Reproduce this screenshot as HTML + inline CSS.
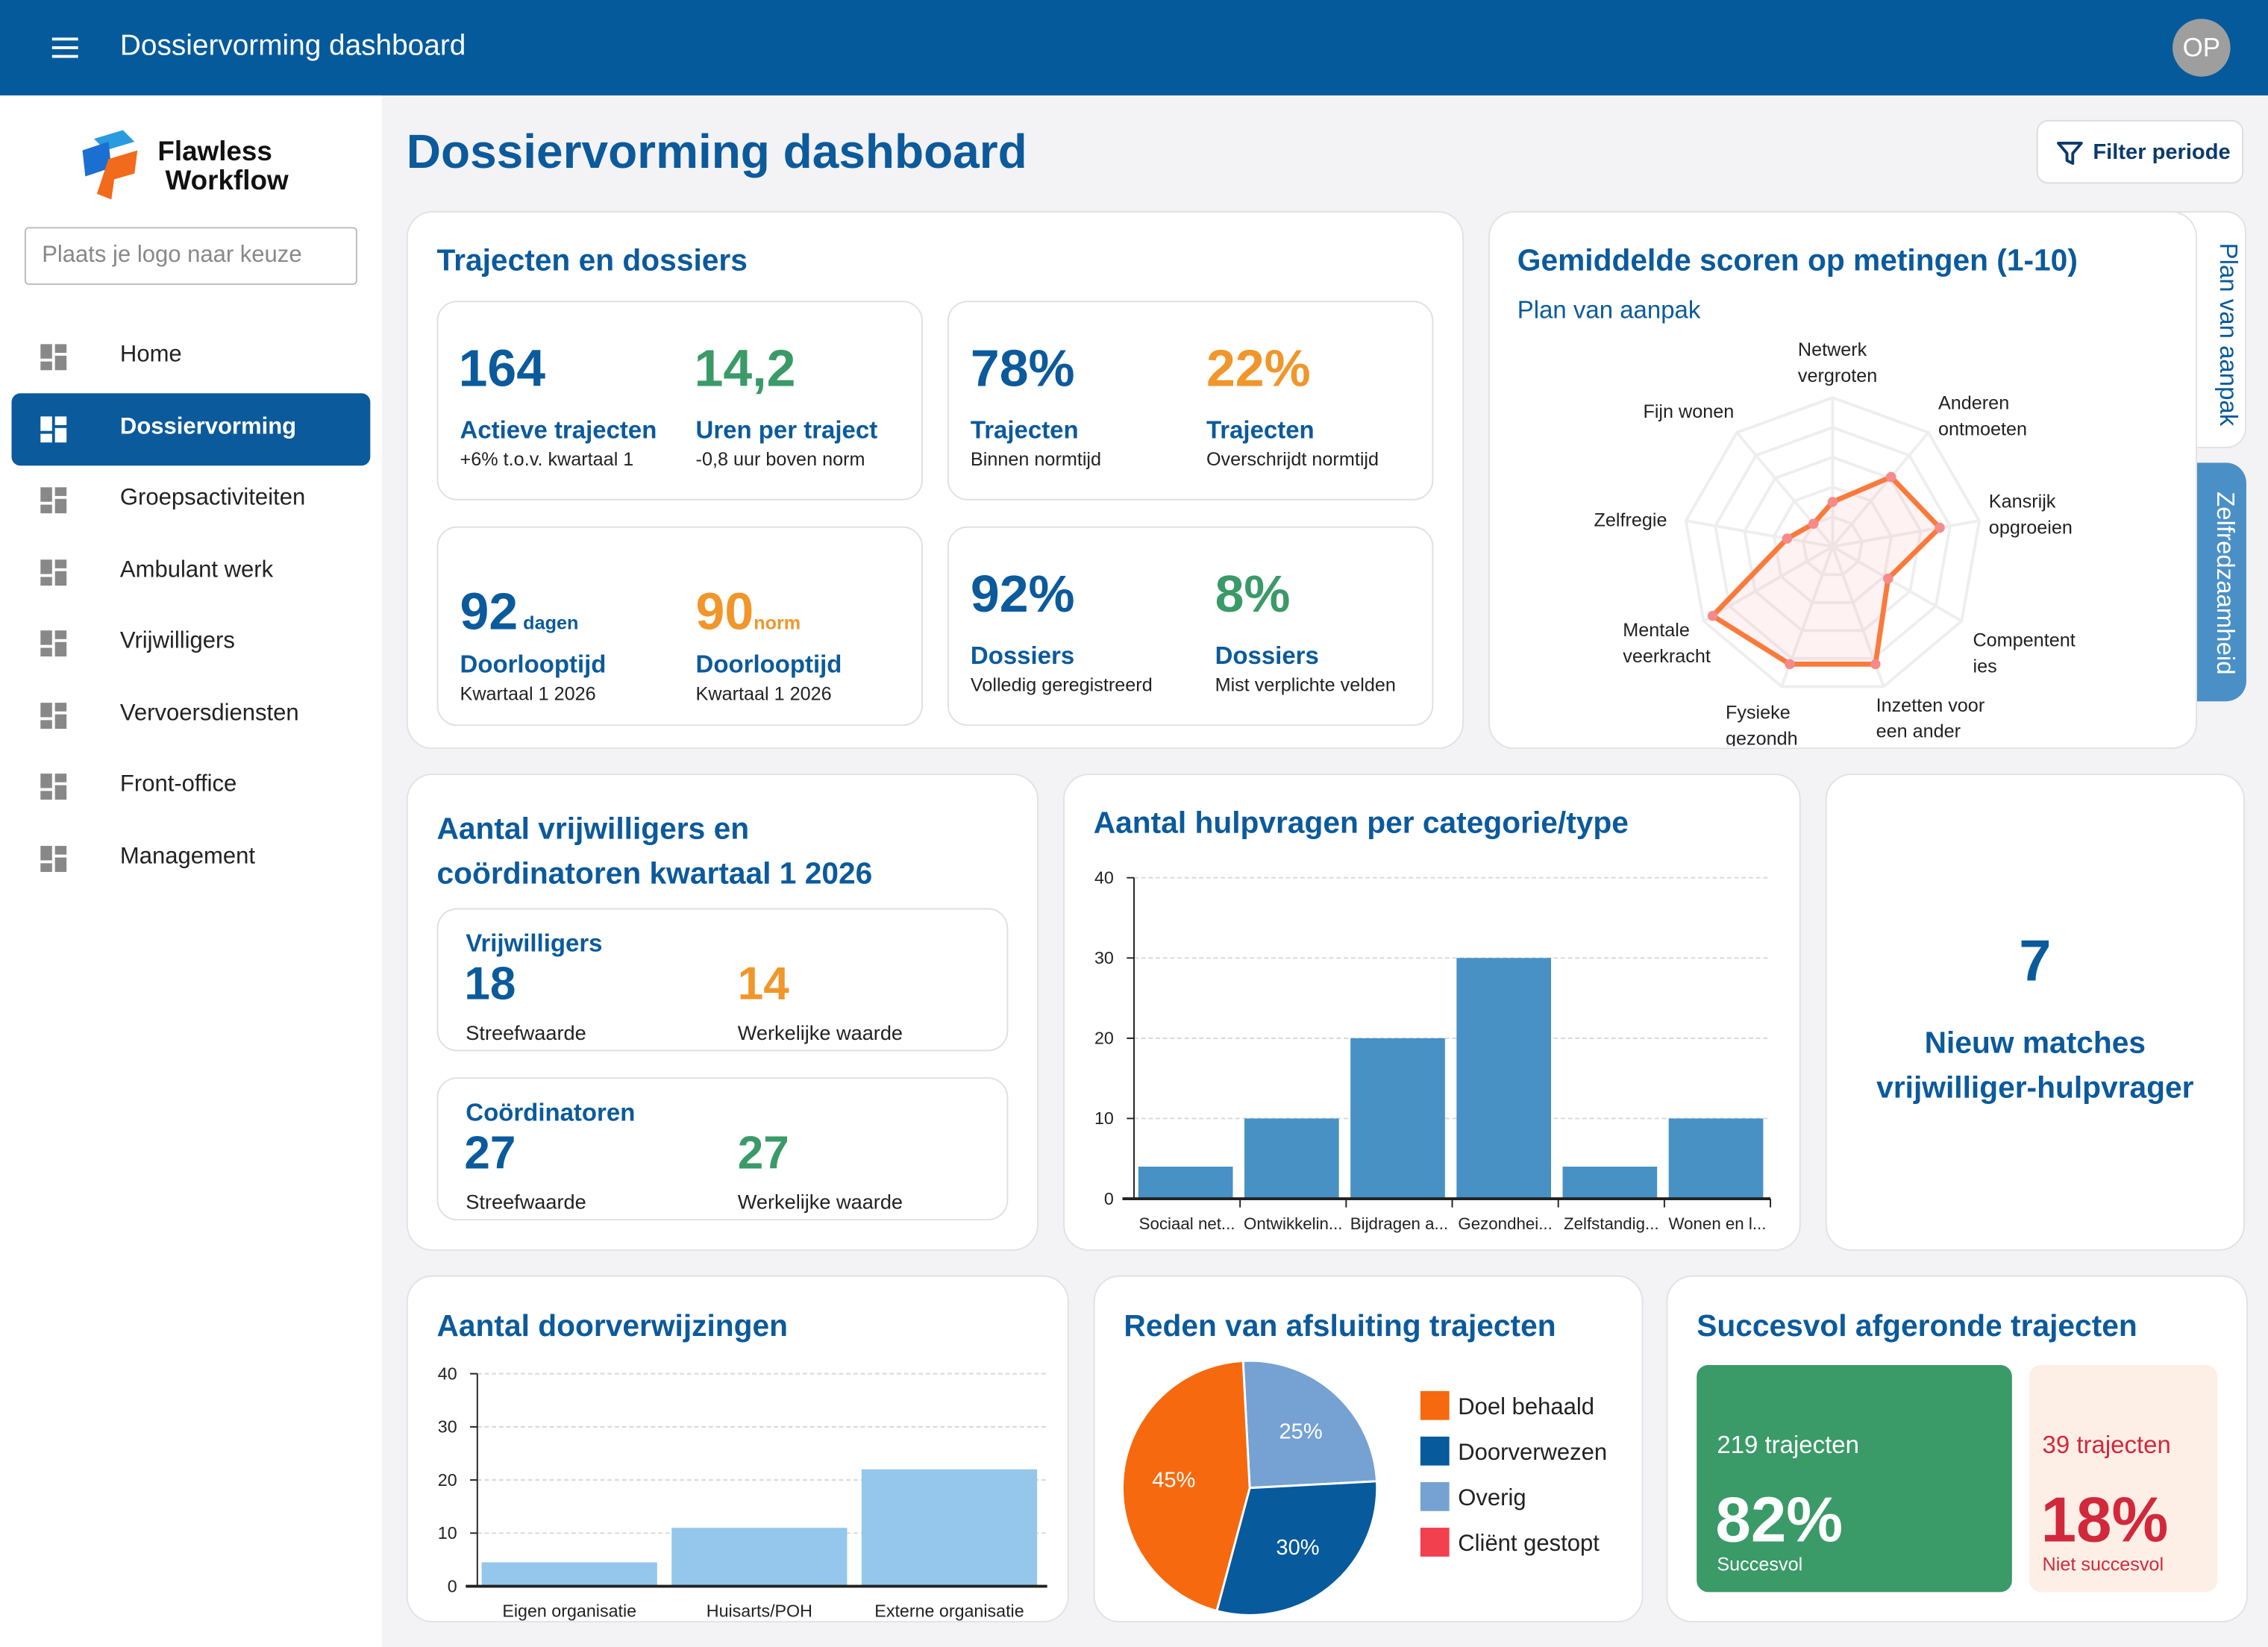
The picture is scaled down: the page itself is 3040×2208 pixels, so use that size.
<!DOCTYPE html>
<html><head><meta charset="utf-8">
<style>
html,body{margin:0;padding:0;width:3040px;height:2208px;overflow:hidden;background:#f3f2f5;font-family:"Liberation Sans",sans-serif;}
#s{position:absolute;left:0;top:0;width:1568px;height:1139px;transform:scale(1.93878,1.93854);transform-origin:0 0;}
.a{position:absolute;}
.card{position:absolute;background:#fff;border:1px solid #e2e2e6;border-radius:18px;box-sizing:border-box;}
.box{position:absolute;background:#fff;border:1px solid #e0e0e4;border-radius:14px;box-sizing:border-box;}
.t{position:absolute;color:#0b5a9c;font-weight:bold;font-size:21px;white-space:nowrap;}
.big{position:absolute;font-weight:bold;font-size:36px;white-space:nowrap;}
.lb{position:absolute;font-weight:bold;font-size:17px;color:#0b5a9c;white-space:nowrap;}
.sm{position:absolute;font-size:13px;color:#222;white-space:nowrap;}
.nav{position:absolute;left:8px;width:248px;height:50px;border-radius:6px;}
.nav span{position:absolute;left:75px;top:15px;font-size:16px;color:#222;}
.ic{position:absolute;left:20px;top:16px;width:18px;height:18px;}
.ic i{position:absolute;background:#888;}
.blue{color:#0b5a9c}.green{color:#3a9a68}.orange{color:#f0962a}
</style></head><body>
<div id="s">
<!-- header -->
<div class="a" style="left:0;top:0;width:1568px;height:66px;background:#045a9b;"></div>
<div class="a" style="left:36px;top:26px;width:18px;height:14px;">
<div class="a" style="left:0;top:0;width:18px;height:2px;background:#fff"></div><div class="a" style="left:0;top:6px;width:18px;height:2px;background:#fff"></div><div class="a" style="left:0;top:12px;width:18px;height:2px;background:#fff"></div></div>
<div class="a" style="left:83px;top:21px;color:#fff;font-size:20px;">Dossiervorming dashboard</div>
<div class="a" style="left:1502px;top:13px;width:40px;height:40px;border-radius:20px;background:#9e9e9e;color:#fff;font-size:18px;text-align:center;line-height:40px;">OP</div>
<!-- sidebar -->
<div class="a" style="left:0;top:66px;width:264px;height:1073px;background:#fff;"></div>
<svg class="a" style="left:55px;top:90px" width="42" height="50" viewBox="0 0 42 50"><path d="M10 6 L30 0 L38 8 L18 14 Z" fill="#2a9be0"/><path d="M2 14 L20 8 L22 26 L4 32 Z" fill="#1b6fd1"/><path d="M20 20 L40 14 L38 30 L24 34 L22 48 L12 44 Z" fill="#f26a1b"/></svg>
<div class="a" style="left:109px;top:96px;font-weight:bold;font-size:19px;line-height:20px;color:#111;">Flawless<br>&nbsp;Workflow</div>
<div class="a" style="left:17px;top:157px;width:230px;height:40px;border:1px solid #bbb;border-radius:3px;box-sizing:border-box;color:#888;font-size:16px;line-height:38px;padding-left:11px;">Plaats je logo naar keuze</div>
<div id="nav"></div>
<!-- title -->
<div class="a" style="left:281px;top:86px;color:#0b5a9c;font-weight:bold;font-size:33px;">Dossiervorming dashboard</div>
<div class="a" style="left:1408px;top:83px;width:143px;height:44px;background:#fff;border:1px solid #ddd;border-radius:8px;box-sizing:border-box;">
<svg class="a" style="left:13px;top:13px" width="18" height="18" viewBox="0 0 18 18"><path d="M1 2 H17 L11 9 V16 L7 14 V9 Z" fill="none" stroke="#0b3a6c" stroke-width="2" stroke-linejoin="round"/></svg>
<span class="a" style="left:38px;top:13px;font-size:15px;color:#0b3a6c;font-weight:bold;">Filter periode</span></div>

<!-- card trajecten -->
<div class="card" style="left:281px;top:146px;width:731px;height:372px;"></div>
<div class="t" style="left:302px;top:169px;">Trajecten en dossiers</div>
<div class="box" style="left:302px;top:208px;width:336px;height:138px;"></div>
<div class="box" style="left:655px;top:208px;width:336px;height:138px;"></div>
<div class="box" style="left:302px;top:364px;width:336px;height:138px;"></div>
<div class="box" style="left:655px;top:364px;width:336px;height:138px;"></div>
<div class="big blue" style="left:317px;top:234px;">164</div>
<div class="lb" style="left:318px;top:288px;">Actieve trajecten</div>
<div class="sm" style="left:318px;top:310px;">+6% t.o.v. kwartaal 1</div>
<div class="big green" style="left:480px;top:234px;">14,2</div>
<div class="lb" style="left:481px;top:288px;">Uren per traject</div>
<div class="sm" style="left:481px;top:310px;">-0,8 uur boven norm</div>
<div class="big blue" style="left:671px;top:234px;">78%</div>
<div class="lb" style="left:671px;top:288px;">Trajecten</div>
<div class="sm" style="left:671px;top:310px;">Binnen normtijd</div>
<div class="big orange" style="left:834px;top:234px;">22%</div>
<div class="lb" style="left:834px;top:288px;">Trajecten</div>
<div class="sm" style="left:834px;top:310px;">Overschrijdt normtijd</div>
<div class="big blue" style="left:318px;top:402px;">92<span style="font-size:13px;"> dagen</span></div>
<div class="lb" style="left:318px;top:450px;">Doorlooptijd</div>
<div class="sm" style="left:318px;top:472px;">Kwartaal 1 2026</div>
<div class="big orange" style="left:481px;top:402px;">90<span style="font-size:13px;">norm</span></div>
<div class="lb" style="left:481px;top:450px;">Doorlooptijd</div>
<div class="sm" style="left:481px;top:472px;">Kwartaal 1 2026</div>
<div class="big blue" style="left:671px;top:390px;">92%</div>
<div class="lb" style="left:671px;top:444px;">Dossiers</div>
<div class="sm" style="left:671px;top:466px;">Volledig geregistreerd</div>
<div class="big green" style="left:840px;top:390px;">8%</div>
<div class="lb" style="left:840px;top:444px;">Dossiers</div>
<div class="sm" style="left:840px;top:466px;">Mist verplichte velden</div>

<!-- radar card -->
<div class="a" style="left:1500px;top:146px;width:53px;height:164px;background:#fff;border:1px solid #e2e2e6;border-radius:0 14px 14px 0;box-sizing:border-box;"></div>
<div class="a" style="left:1500px;top:320px;width:53px;height:165px;background:#4a90c6;border-radius:0 14px 14px 0;"></div>
<div class="card" style="left:1029px;top:146px;width:490px;height:372px;"></div>
<div class="a" style="left:1530px;top:168px;writing-mode:vertical-rl;color:#0b5a9c;font-size:17px;">Plan van aanpak</div>
<div class="a" style="left:1528px;top:340px;writing-mode:vertical-rl;color:#fff;font-size:17px;">Zelfredzaamheid</div>
<div class="t" style="left:1049px;top:169px;">Gemiddelde scoren op metingen (1-10)</div>
<div class="a" style="left:1049px;top:205px;color:#0b5a9c;font-size:17px;">Plan van aanpak</div>
<svg id="radar" class="a" style="left:1029px;top:146px" width="489" height="370"></svg>

<!-- vrijwilligers -->
<div class="card" style="left:281px;top:535px;width:437px;height:330px;"></div>
<div class="t" style="left:302px;top:558px;line-height:31px;">Aantal vrijwilligers en<br>coördinatoren kwartaal 1 2026</div>
<div class="box" style="left:302px;top:628px;width:395px;height:99px;"></div>
<div class="box" style="left:302px;top:745px;width:395px;height:99px;"></div>
<div class="lb" style="left:322px;top:643px;">Vrijwilligers</div>
<div class="big blue" style="left:321px;top:662px;font-size:32px;">18</div>
<div class="big orange" style="left:510px;top:662px;font-size:32px;">14</div>
<div class="sm" style="left:322px;top:706px;font-size:14px;">Streefwaarde</div>
<div class="sm" style="left:510px;top:706px;font-size:14px;">Werkelijke waarde</div>
<div class="lb" style="left:322px;top:760px;">Coördinatoren</div>
<div class="big blue" style="left:321px;top:779px;font-size:32px;">27</div>
<div class="big green" style="left:510px;top:779px;font-size:32px;">27</div>
<div class="sm" style="left:322px;top:823px;font-size:14px;">Streefwaarde</div>
<div class="sm" style="left:510px;top:823px;font-size:14px;">Werkelijke waarde</div>

<!-- hulpvragen -->
<div class="card" style="left:735px;top:535px;width:510px;height:330px;"></div>
<div class="t" style="left:756px;top:558px;">Aantal hulpvragen per categorie/type</div>
<svg id="bar1" class="a" style="left:735px;top:535px" width="510" height="330"></svg>

<!-- matches -->
<div class="card" style="left:1262px;top:535px;width:290px;height:330px;"></div>
<div class="a" style="left:1262px;top:643px;width:290px;text-align:center;color:#0b5a9c;font-weight:bold;font-size:40px;">7</div>
<div class="a" style="left:1262px;top:706px;width:290px;text-align:center;color:#0b5a9c;font-weight:bold;font-size:21px;line-height:31px;">Nieuw matches<br>vrijwilliger-hulpvrager</div>

<!-- doorverwijzingen -->
<div class="card" style="left:281px;top:882px;width:458px;height:240px;"></div>
<div class="t" style="left:302px;top:906px;">Aantal doorverwijzingen</div>
<svg id="bar2" class="a" style="left:281px;top:882px" width="458" height="240"></svg>

<!-- pie -->
<div class="card" style="left:756px;top:882px;width:380px;height:240px;"></div>
<div class="t" style="left:777px;top:906px;">Reden van afsluiting trajecten</div>
<svg id="pie" class="a" style="left:756px;top:882px" width="380" height="240"></svg>

<!-- succes -->
<div class="card" style="left:1152px;top:882px;width:402px;height:240px;"></div>
<div class="t" style="left:1173px;top:906px;">Succesvol afgeronde trajecten</div>
<div class="a" style="left:1173px;top:944px;width:218px;height:157px;background:#3a9a68;border-radius:8px;"></div>
<div class="a" style="left:1187px;top:990px;color:#fff;font-size:17px;">219 trajecten</div>
<div class="a" style="left:1186px;top:1027px;color:#fff;font-size:44px;font-weight:bold;">82%</div>
<div class="a" style="left:1187px;top:1074px;color:#fff;font-size:13px;">Succesvol</div>
<div class="a" style="left:1403px;top:944px;width:130px;height:157px;background:#fdefe6;border-radius:8px;"></div>
<div class="a" style="left:1412px;top:990px;color:#d2283c;font-size:17px;">39 trajecten</div>
<div class="a" style="left:1411px;top:1027px;color:#d2283c;font-size:44px;font-weight:bold;">18%</div>
<div class="a" style="left:1412px;top:1074px;color:#d2283c;font-size:13px;">Niet succesvol</div>
</div>
<script>
const NS='http://www.w3.org/2000/svg';
function mk(p,tag,at,txt){const e=document.createElementNS(NS,tag);for(const k in at)e.setAttribute(k,at[k]);if(txt!==undefined)e.textContent=txt;p.appendChild(e);return e;}

// nav
const navItems=['Home','Dossiervorming','Groepsactiviteiten','Ambulant werk','Vrijwilligers','Vervoersdiensten','Front-office','Management'];
const navActive=1;
const nav=document.getElementById('nav');
navItems.forEach((n,i)=>{
  const d=document.createElement('div');d.className='nav';
  
  
  d.style.top=(222+i*49.5)+'px';
  const act=i===navActive;
  if(act)d.style.background='#0b5a9c';
  const c=act?'#fff':'#888';
  d.innerHTML='<div class="ic"><i style="left:0;top:0;width:8px;height:10px;background:'+c+'"></i><i style="left:10px;top:0;width:8px;height:6px;background:'+c+'"></i><i style="left:0;top:12px;width:8px;height:6px;background:'+c+'"></i><i style="left:10px;top:8px;width:8px;height:10px;background:'+c+'"></i></div><span style="'+(act?'color:#fff;font-weight:bold':'')+'">'+n+'</span>';
  nav.appendChild(d);
});

// radar
const radarLabels=[['Netwerk','vergroten'],['Anderen','ontmoeten'],['Kansrijk','opgroeien'],['Compentent','ies'],['Inzetten voor','een ander'],['Fysieke','gezondh'],['Mentale','veerkracht'],['Zelfregie'],['Fijn wonen']];
const radarValues=[3,6.1,7.3,4.3,8.4,8.4,9.3,3.1,2];
const radarMax=10;
(function(){
  const s=document.getElementById('radar');const cx=238,cy=232,R=103,n=radarLabels.length;
  const pt=(i,r)=>{const a=(-90+i*360/n)*Math.PI/180;return[cx+r*Math.cos(a),cy+r*Math.sin(a)];};
  for(let k=1;k<=5;k++){const r=R*k/5;mk(s,'polygon',{points:radarLabels.map((_,i)=>pt(i,r).join(',')).join(' '),fill:'none',stroke:'#eeeef0','stroke-width':2});}
  radarLabels.forEach((_,i)=>{const p=pt(i,R);mk(s,'line',{x1:cx,y1:cy,x2:p[0],y2:p[1],stroke:'#eeeef0','stroke-width':2});});
  const rad=v=>R*v/radarMax;
  const poly=mk(s,'polygon',{points:radarValues.map((v,i)=>pt(i,rad(v)).join(',')).join(' '),fill:'rgba(250,150,160,0.12)',stroke:'#fa7a3c','stroke-width':3.5,'stroke-linejoin':'round'});
  
  
  radarValues.forEach((v,i)=>{const p=pt(i,rad(v));const c=mk(s,'circle',{cx:p[0],cy:p[1],r:3.5,fill:'#f78a8a'});
    
    });
  const lp=[[214,100],[311,137],[346,205],[335,301],[268,346],[164,351],[93,294],[73,218],[107,143]];
  radarLabels.forEach((l,i)=>{l.forEach((t,j)=>{const e=mk(s,'text',{x:lp[i][0],y:lp[i][1]+j*18,'font-size':13,fill:'#222','font-family':'Liberation Sans'},t);
    
    });});
})();

// bar chart 1
const hCats=['Sociaal net...','Ontwikkelin...','Bijdragen a...','Gezondhei...','Zelfstandig...','Wonen en l...'];
const hVals=[4,10,20,30,4,10];
const hTicks=[0,10,20,30,40];
(function(){
  const s=document.getElementById('bar1');const x0=49,x1=489,y0=294,y1=72,max=40;
  const y=v=>y0-(y0-y1)*v/max;const bw=(x1-x0)/hCats.length;
  hTicks.forEach(t=>{if(t>0)mk(s,'line',{x1:x0,x2:x1,y1:y(t),y2:y(t),stroke:'#d8d6e0','stroke-dasharray':'3,2'});
    mk(s,'line',{x1:x0-5,x2:x0,y1:y(t),y2:y(t),stroke:'#222'});
    const e=mk(s,'text',{x:x0-14,y:y(t)+4,'font-size':12,'text-anchor':'end',fill:'#222','font-family':'Liberation Sans'},t);
    
    });
  hVals.forEach((v,i)=>{const r=mk(s,'rect',{x:x0+i*bw+3,y:y(v),width:bw-8,height:y0-y(v),fill:'#4791c5'});
    
    
    const e=mk(s,'text',{x:x0+i*bw+bw/2,y:y0+21,'font-size':11.5,'text-anchor':'middle',fill:'#222','font-family':'Liberation Sans'},hCats[i]);
    
    
    mk(s,'line',{x1:x0+(i+1)*bw,x2:x0+(i+1)*bw,y1:y0,y2:y0+6,stroke:'#222'});});
  mk(s,'line',{x1:x0,x2:x0,y1:y1,y2:y0,stroke:'#222'});
  mk(s,'line',{x1:x0-8,x2:x1,y1:y0,y2:y0,stroke:'#222','stroke-width':2});
})();

// bar chart 2
const dCats=['Eigen organisatie','Huisarts/POH','Externe organisatie'];
const dVals=[4.5,11,22];
const dTicks=[0,10,20,30,40];
(function(){
  const s=document.getElementById('bar2');const x0=49,x1=443,y0=215,y1=68,max=40;
  const y=v=>y0-(y0-y1)*v/max;const bw=(x1-x0)/dCats.length;
  dTicks.forEach(t=>{if(t>0)mk(s,'line',{x1:x0,x2:x1,y1:y(t),y2:y(t),stroke:'#d8d6e0','stroke-dasharray':'3,2'});
    mk(s,'line',{x1:x0-5,x2:x0,y1:y(t),y2:y(t),stroke:'#222'});
    const e=mk(s,'text',{x:x0-14,y:y(t)+4,'font-size':12,'text-anchor':'end',fill:'#222','font-family':'Liberation Sans'},t);
    
    });
  dVals.forEach((v,i)=>{const r=mk(s,'rect',{x:x0+i*bw+3,y:y(v),width:bw-10,height:y0-y(v),fill:'#94c7eb'});
    
    
    const e=mk(s,'text',{x:x0+i*bw+bw/2-2,y:y0+21,'font-size':12,'text-anchor':'middle',fill:'#222','font-family':'Liberation Sans'},dCats[i]);
    
    });
  mk(s,'line',{x1:x0,x2:x0,y1:y1,y2:y0,stroke:'#222'});
  mk(s,'line',{x1:x0-8,x2:x1,y1:y0,y2:y0,stroke:'#222','stroke-width':2});
})();

// pie
const pCats=['Doel behaald','Doorverwezen','Overig','Cliënt gestopt'];
const pVals=[45,30,25,0];
const pColors=['#f7690e','#075a9c','#75a2d3','#f2404e'];
const pOrder=[2,1,0,3];
(function(){
  const s=document.getElementById('pie');const cx=108,cy=147,r=88;
  const tot=pVals.reduce((a,b)=>a+b,0);let a=-3;
  pOrder.forEach(i=>{const v=pVals[i];if(!v)return;const a2=a+360*v/tot;
    const p=d=>[cx+r*Math.sin(d*Math.PI/180),cy-r*Math.cos(d*Math.PI/180)];
    const [sx,sy]=p(a),[ex,ey]=p(a2);
    const path=mk(s,'path',{d:`M${cx},${cy} L${sx},${sy} A${r},${r} 0 ${a2-a>180?1:0} 1 ${ex},${ey} Z`,fill:pColors[i],stroke:'#fff','stroke-width':1.5});
    
    
    const m=(a+a2)/2;const lx=cx+r*0.6*Math.sin(m*Math.PI/180),ly=cy-r*0.6*Math.cos(m*Math.PI/180);
    const t=mk(s,'text',{x:lx,y:ly+5,'font-size':15,'text-anchor':'middle',fill:'#fff','font-family':'Liberation Sans'},v+'%');
    
    
    a=a2;});
  pCats.forEach((c,i)=>{const g=mk(s,'g',{});
    
    
    const yy=80+i*31.5;mk(g,'rect',{x:226,y:yy,width:20,height:20,fill:pColors[i]});
    mk(g,'text',{x:252,y:yy+16,'font-size':16,fill:'#222','font-family':'Liberation Sans'},c);});
})();
</script>
</body></html>
